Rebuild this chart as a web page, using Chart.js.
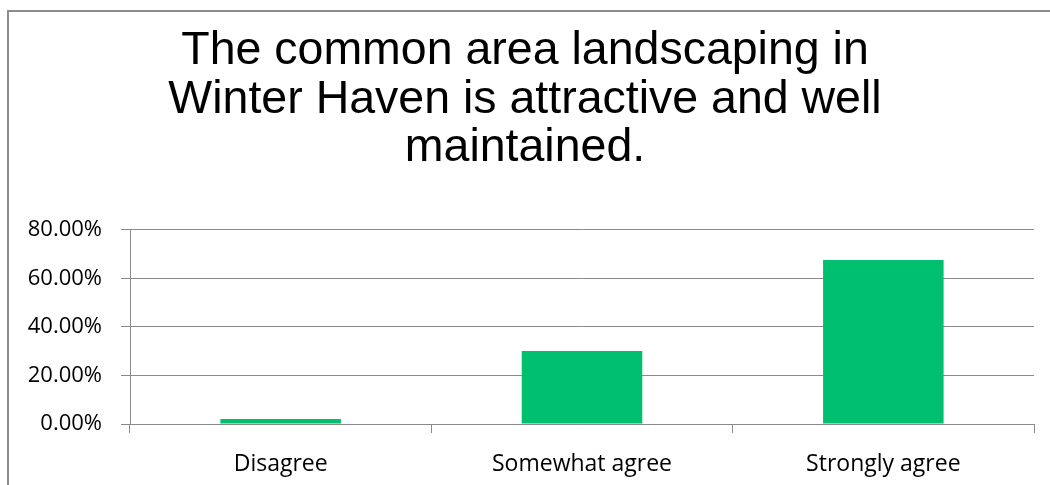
<!DOCTYPE html>
<html>
<head>
<meta charset="utf-8">
<script src="https://cdn.jsdelivr.net/npm/chart.js@4/dist/chart.umd.min.js"></script>
<style>
  html, body { margin: 0; padding: 0; background: #ffffff; overflow: hidden; }
  #frame {
    position: absolute; left: 7px; top: 10px; width: 2000px; height: 1000px;
    border: 2px solid #8c8c8c; box-sizing: border-box;
  }
  #wrap { position: absolute; left: 0; top: 0; width: 1050px; height: 485px; }
</style>
</head>
<body>
<div id="frame"></div>
<div id="wrap"><canvas id="chart" width="1050" height="485"></canvas></div>
<script>
// Survey responses (share of respondents, in percent)
const categories = ['Disagree', 'Somewhat agree', 'Strongly agree'];
const shares = [2.1, 30.1, 67.6];
const titleLines = ['The common area landscaping in', 'Winter Haven is attractive and well', 'maintained.'];
const axisMax = 80;
const axisStep = 20;

const gridGrey = '#8a8a8a';

new Chart(document.getElementById('chart'), {
  type: 'bar',
  data: {
    labels: categories,
    datasets: [{
      data: shares,
      backgroundColor: '#00BF6F',
      borderWidth: 0,
      barPercentage: 0.4,
      categoryPercentage: 1.0
    }]
  },
  options: {
    responsive: false,
    animation: false,
    layout: { padding: { left: 16, right: 16, top: 0, bottom: 0 } },
    plugins: {
      legend: { display: false },
      tooltip: { enabled: false },
      title: {
        display: true,
        text: titleLines,
        color: '#000000',
        font: { family: '"Liberation Sans", Arial, sans-serif', size: 46.5, weight: 'normal', lineHeight: 1.045 },
        padding: { top: 27, bottom: 57 }
      }
    },
    scales: {
      x: {
        offset: true,
        grid: {
          offset: true,
          drawOnChartArea: false,
          drawTicks: true,
          tickLength: 9,
          color: gridGrey,
          tickColor: gridGrey
        },
        border: { display: true, color: gridGrey, width: 1 },
        ticks: {
          color: '#000000',
          padding: 18,
          maxRotation: 0,
          font: { family: '"Open Sans", sans-serif', size: 23 }
        },
        afterFit: (scale) => { scale.height = 61; }
      },
      y: {
        min: 0,
        max: axisMax,
        grid: {
          drawOnChartArea: true,
          drawTicks: true,
          tickLength: 9,
          color: gridGrey,
          tickColor: gridGrey
        },
        border: { display: true, color: gridGrey, width: 1 },
        ticks: {
          stepSize: axisStep,
          color: '#000000',
          padding: 19,
          font: { family: '"Open Sans", sans-serif', size: 22 },
          callback: (v) => v.toFixed(2) + '%'
        },
        afterFit: (scale) => { scale.width = 114; }
      }
    }
  }
});
</script>
</body>
</html>
